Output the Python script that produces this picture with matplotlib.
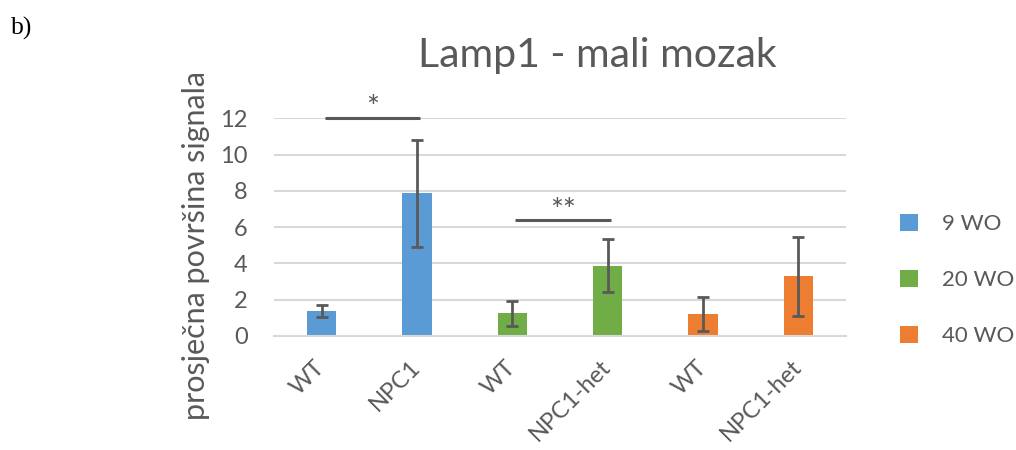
import matplotlib
matplotlib.use("Agg")
import matplotlib.pyplot as plt
from matplotlib.patches import Patch

categories = ["WT", "NPC1", "WT", "NPC1-het", "WT", "NPC1-het"]
groups = ["9 WO", "9 WO", "20 WO", "20 WO", "40 WO", "40 WO"]
means = [1.36, 7.87, 1.25, 3.88, 1.23, 3.28]
errors = [0.33, 2.95, 0.68, 1.45, 0.93, 2.17]
legend_labels = ["9 WO", "20 WO", "40 WO"]
sig_pairs = [(0, 1), (2, 3)]
sig_heights = [12.0, 6.37]
sig_marks = ["*", "**"]
yticks = [0, 2, 4, 6, 8, 10, 12]

colors = {"9 WO": "#5B9BD5", "20 WO": "#70AD47", "40 WO": "#ED7D31"}
txt = "#595959"
font = ["Lato", "DejaVu Sans"]
plt.rcParams['font.family'] = font

fig = plt.figure(figsize=(10.16, 4.5), dpi=100)
ax = fig.add_axes([274/1016, 1-336/450, 572/1016, (336-118.3)/450])

x = list(range(len(categories)))
ax.bar(x, means, width=0.31, color=[colors[g] for g in groups], zorder=2)
ax.errorbar(x, means, yerr=errors, fmt="none", ecolor="#595959", elinewidth=2,
            capsize=4.5, capthick=2, zorder=3)

ax.set_xlim(-0.5, len(categories)-0.5)
ax.set_ylim(0, 12)
ax.set_yticks(yticks)
ax.yaxis.grid(True, color="#D9D9D9", linewidth=1.5, zorder=0)
ax.set_axisbelow(True)
for s in ["top", "right", "left"]:
    ax.spines[s].set_visible(False)
ax.spines["bottom"].set_color("#D9D9D9")
ax.spines["bottom"].set_linewidth(1.5)
ax.tick_params(axis="both", length=0, colors=txt, labelsize=17)
ax.tick_params(axis="y", pad=19)
ax.set_xticks(x)
ax.set_xticklabels(categories, rotation=45, ha="right", va="center",
                   rotation_mode="anchor")
ax.tick_params(axis="x", pad=20)

for (i, j), h, m in zip(sig_pairs, sig_heights, sig_marks):
    ax.plot([i + 0.03, j + 0.03], [h, h], color="#595959", lw=2.2,
            clip_on=False, zorder=4, solid_capstyle="butt")
    ax.text((i + j) / 2 + 0.03, h + 0.05, m, ha="center", va="baseline",
            color=txt, fontsize=22, clip_on=False)

fig.text(196/1016, 1-245/450, "prosječna površina signala", rotation=90,
         ha="center", va="center", color=txt, fontsize=22)

fig.text(597/1016, 1-55/450, "Lamp1 - mali mozak", ha="center", va="center",
         color=txt, fontsize=29.5)
fig.text(11/1016, 1-28/450, "b)", ha="left", va="center", color="black",
         fontsize=18.5, family=["Liberation Serif"])

handles = [Patch(facecolor=colors[g]) for g in legend_labels]
fig.legend(handles, legend_labels, loc="center left",
           bbox_to_anchor=(880/1016, 1-280/450), frameon=False,
           fontsize=16, labelcolor=txt, handlelength=0.8, handleheight=0.8,
           handletextpad=1.1, labelspacing=1.6)

fig.savefig("out.png", dpi=100)
